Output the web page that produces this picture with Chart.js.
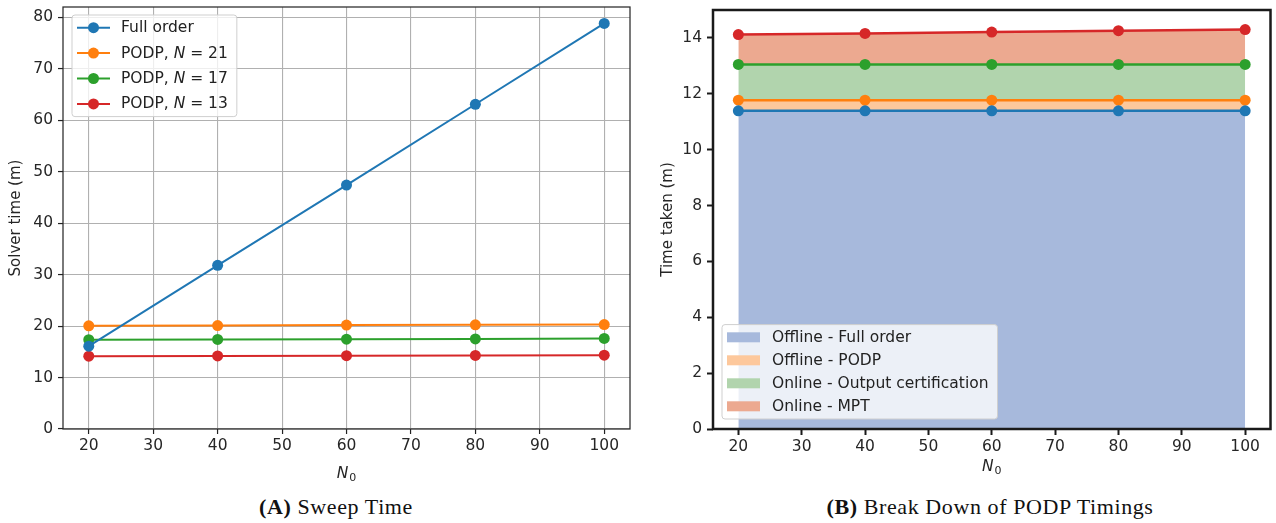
<!DOCTYPE html>
<html>
<head>
<meta charset="utf-8">
<script src="https://cdn.jsdelivr.net/npm/chart.js@4"></script>
<style>
  html, body { margin: 0; padding: 0; background: #fff; width: 1276px; height: 523px; overflow: hidden; }
  canvas { position: absolute; top: 0; }
  #sweep { left: 0; }
  #breakdown { left: 640px; }
  .cap { position: absolute; top: 494px; line-height: 26px; font-family: "Liberation Serif", serif;
         font-size: 22px; letter-spacing: 0.6px; color: #111; white-space: nowrap; transform: translateX(-50%); }
  .cap b { font-weight: bold; }
</style>
</head>
<body>
<canvas id="sweep" width="640" height="490"></canvas>
<canvas id="breakdown" width="636" height="490"></canvas>
<div class="cap" style="left:336px"><b>(A)</b> Sweep Time</div>
<div class="cap" style="left:990px"><b>(B)</b> Break Down of PODP Timings</div>

<script>
// ---- data ----
const n0Values = [20, 40, 60, 80, 100];
const xTickValues = [20, 30, 40, 50, 60, 70, 80, 90, 100];

// (A) solver time per sweep, minutes
const sweepLabels = ['Full order', 'PODP, N = 21', 'PODP, N = 17', 'PODP, N = 13'];
const fullOrderTime = [16.1, 31.8, 47.4, 63.1, 78.8];
const podp21Time = [20.05, 20.1, 20.2, 20.25, 20.3];
const podp17Time = [17.35, 17.4, 17.45, 17.5, 17.6];
const podp13Time = [14.15, 14.2, 14.25, 14.3, 14.35];
const sweepYTicks = [0, 10, 20, 30, 40, 50, 60, 70, 80];

// (B) stacked breakdown of PODP timings, minutes
const breakdownLabels = ['Offline - Full order', 'Offline - PODP', 'Online - Output certification', 'Online - MPT'];
const offlineFullOrder = [11.39, 11.39, 11.39, 11.39, 11.39];
const offlinePodp = [0.38, 0.38, 0.38, 0.38, 0.38];
const onlineCertification = [1.28, 1.28, 1.28, 1.28, 1.28];
const onlineMpt = [1.07, 1.11, 1.16, 1.21, 1.25];
const breakdownYTicks = [0, 2, 4, 6, 8, 10, 12, 14];

// ---- styling ----
const C = { blue: '#1f77b4', orange: '#ff7f0e', green: '#2ca02c', red: '#d62728' };
const FILL = { blue: '#a7b9dc', orange: '#fdc89c', green: '#b1d4ad', red: '#eca990' };
const FONT = '"DejaVu Sans", sans-serif';
const TEXT = '#262626';
const TICK_SIZE = 15.5;

const pts = vals => vals.map((v, i) => ({ x: n0Values[i], y: v }));

// draws a label, setting the standalone symbol N in italics
function drawRich(ctx, text, x, y, size, color) {
  ctx.fillStyle = color;
  ctx.textBaseline = 'middle';
  ctx.textAlign = 'left';
  let cx = x;
  for (const part of text.split(/(\bN\b)/)) {
    if (!part) continue;
    ctx.font = (part === 'N' ? 'italic ' : '') + size + 'px ' + FONT;
    ctx.fillText(part, cx, y);
    cx += ctx.measureText(part).width;
  }
  return cx - x;
}
function richWidth(ctx, text, size) {
  let w = 0;
  for (const part of text.split(/(\bN\b)/)) {
    if (!part) continue;
    ctx.font = (part === 'N' ? 'italic ' : '') + size + 'px ' + FONT;
    w += ctx.measureText(part).width;
  }
  return w;
}
function roundRect(ctx, x, y, w, h, r) {
  ctx.beginPath();
  ctx.moveTo(x + r, y);
  ctx.lineTo(x + w - r, y); ctx.quadraticCurveTo(x + w, y, x + w, y + r);
  ctx.lineTo(x + w, y + h - r); ctx.quadraticCurveTo(x + w, y + h, x + w - r, y + h);
  ctx.lineTo(x + r, y + h); ctx.quadraticCurveTo(x, y + h, x, y + h - r);
  ctx.lineTo(x, y + r); ctx.quadraticCurveTo(x, y, x + r, y);
  ctx.closePath();
}

// axes box, N_0 axis title and in-plot legend
const decorations = {
  id: 'decorations',
  afterDraw(chart, args, o) {
    const ctx = chart.ctx;
    const a = chart.chartArea;
    ctx.save();
    // frame
    ctx.strokeStyle = o.frameColor;
    ctx.lineWidth = o.frameWidth;
    ctx.strokeRect(a.left, a.top, a.right - a.left, a.bottom - a.top);

    // x-axis title: italic N with subscript 0
    const cx = (a.left + a.right) / 2;
    ctx.fillStyle = TEXT;
    ctx.textBaseline = 'middle';
    ctx.textAlign = 'left';
    ctx.font = 'italic 15.5px ' + FONT;
    const wN = ctx.measureText('N').width;
    ctx.font = '11px ' + FONT;
    const w0 = ctx.measureText('0').width;
    const x0 = cx - (wN + w0 + 1) / 2;
    ctx.font = 'italic 15.5px ' + FONT;
    ctx.fillText('N', x0, o.xTitleY);
    ctx.font = '11px ' + FONT;
    ctx.fillText('0', x0 + wN + 1, o.xTitleY + 4);

    // legend
    const L = o.legend;
    const items = chart.data.datasets.map(d => ({ label: d.label, color: d.borderColor, fill: d.backgroundColor }));
    let maxW = 0;
    items.forEach(it => { maxW = Math.max(maxW, richWidth(ctx, it.label, L.size)); });
    const bw = L.textX + maxW + 9;
    const bh = L.rowGap * (items.length - 1) + 2 * L.firstRow;
    const bx = a.left + L.dx;
    const by = L.anchor === 'top' ? a.top + L.dy : a.bottom - L.dy - bh;
    roundRect(ctx, bx, by, bw, bh, 3);
    ctx.fillStyle = 'rgba(255,255,255,0.78)';
    ctx.fill();
    ctx.strokeStyle = '#cfcfcf';
    ctx.lineWidth = 1;
    ctx.stroke();
    items.forEach((it, i) => {
      const y = by + L.firstRow + i * L.rowGap;
      if (L.kind === 'line') {
        ctx.strokeStyle = it.color;
        ctx.lineWidth = 2;
        ctx.beginPath();
        ctx.moveTo(bx + 5, y); ctx.lineTo(bx + 38, y);
        ctx.stroke();
        ctx.fillStyle = it.color;
        ctx.beginPath();
        ctx.arc(bx + 21.5, y, 5.5, 0, Math.PI * 2);
        ctx.fill();
      } else {
        ctx.fillStyle = it.fill;
        ctx.fillRect(bx + 5, y - 5, 33, 10);
      }
      drawRich(ctx, it.label, bx + L.textX, y + 0.5, L.size, '#222');
    });
    ctx.restore();
  }
};

function xScale(height, gridOpts) {
  return {
    type: 'linear', min: 16, max: 104,
    afterBuildTicks: s => { s.ticks = xTickValues.map(v => ({ value: v })); },
    afterFit: s => { s.height = height; s.paddingLeft = 0; s.paddingRight = 0; },
    grid: gridOpts,
    border: { display: false },
    ticks: { font: { family: FONT, size: TICK_SIZE }, color: TEXT, padding: 3, autoSkip: false, maxRotation: 0 }
  };
}
function yFit(width) {
  return s => { s.width = width; s.paddingTop = 0; s.paddingBottom = 0; };
}

// ---- (A) sweep time ----
const sweepSeries = [fullOrderTime, podp21Time, podp17Time, podp13Time];
const sweepColors = [C.blue, C.orange, C.green, C.red];
new Chart(document.getElementById('sweep'), {
  type: 'line',
  data: {
    datasets: sweepSeries.map((vals, i) => ({
      label: sweepLabels[i],
      data: pts(vals),
      borderColor: sweepColors[i],
      backgroundColor: sweepColors[i],
      pointBackgroundColor: sweepColors[i],
      borderWidth: 2,
      pointRadius: 5.5,
      pointBorderWidth: 0,
      fill: false,
      tension: 0
    }))
  },
  options: {
    responsive: false, animation: false, events: [],
    layout: { padding: { left: 0, right: 10, top: 7, bottom: 0 } },
    plugins: {
      legend: { display: false }, tooltip: { enabled: false },
      decorations: {
        frameColor: '#2a2a2a', frameWidth: 1.25, xTitleY: 474,
        legend: { kind: 'line', anchor: 'top', dx: 9, dy: 8, firstRow: 12.7, rowGap: 25.4, textX: 49, size: 15.5 }
      }
    },
    scales: {
      x: xScale(61, { color: '#b0b0b0', lineWidth: 1.1, tickColor: '#222', tickWidth: 1.2, tickLength: 5 }),
      y: {
        min: 0, max: 82,
        afterBuildTicks: s => { s.ticks = sweepYTicks.map(v => ({ value: v })); },
        afterFit: yFit(63),
        grid: { color: '#b0b0b0', lineWidth: 1.1, tickColor: '#222', tickWidth: 1.2, tickLength: 5 },
        border: { display: false },
        ticks: { font: { family: FONT, size: TICK_SIZE }, color: TEXT, padding: 5, autoSkip: false },
        title: { display: true, text: 'Solver time (m)', color: TEXT, font: { family: FONT, size: 15 }, padding: { top: 7, bottom: 0 } }
      }
    }
  },
  plugins: [decorations]
});

// ---- (B) stacked breakdown ----
const breakdownSeries = [offlineFullOrder, offlinePodp, onlineCertification, onlineMpt];
const breakdownLine = [C.blue, C.orange, C.green, C.red];
const breakdownFill = [FILL.blue, FILL.orange, FILL.green, FILL.red];
new Chart(document.getElementById('breakdown'), {
  type: 'line',
  data: {
    datasets: breakdownSeries.map((vals, i) => ({
      label: breakdownLabels[i],
      data: pts(vals),
      borderColor: breakdownLine[i],
      backgroundColor: breakdownFill[i],
      pointBackgroundColor: breakdownLine[i],
      borderWidth: 2.5,
      pointRadius: 5.5,
      pointBorderWidth: 0,
      fill: i === 0 ? 'origin' : '-1',
      tension: 0
    }))
  },
  options: {
    responsive: false, animation: false, events: [],
    layout: { padding: { left: 0, right: 3, top: 10, bottom: 0 } },
    plugins: {
      legend: { display: false }, tooltip: { enabled: false },
      filler: { propagate: false },
      decorations: {
        frameColor: '#1a1a1a', frameWidth: 2.5, xTitleY: 467,
        legend: { kind: 'patch', anchor: 'bottom', dx: 9, dy: 10, firstRow: 12.7, rowGap: 23, textX: 50, size: 15.5 }
      }
    },
    scales: {
      x: xScale(61, { drawOnChartArea: false, tickColor: '#1a1a1a', tickWidth: 2, tickLength: 6 }),
      y: {
        stacked: true, min: 0, max: 15,
        afterBuildTicks: s => { s.ticks = breakdownYTicks.map(v => ({ value: v })); },
        afterFit: yFit(73),
        grid: { drawOnChartArea: false, tickColor: '#1a1a1a', tickWidth: 2, tickLength: 6 },
        border: { display: false },
        ticks: { font: { family: FONT, size: TICK_SIZE }, color: TEXT, padding: 5, autoSkip: false },
        title: { display: true, text: 'Time taken (m)', color: TEXT, font: { family: FONT, size: 15 }, padding: { top: 19, bottom: 0 } }
      }
    }
  },
  plugins: [decorations]
});
</script>
</body>
</html>
